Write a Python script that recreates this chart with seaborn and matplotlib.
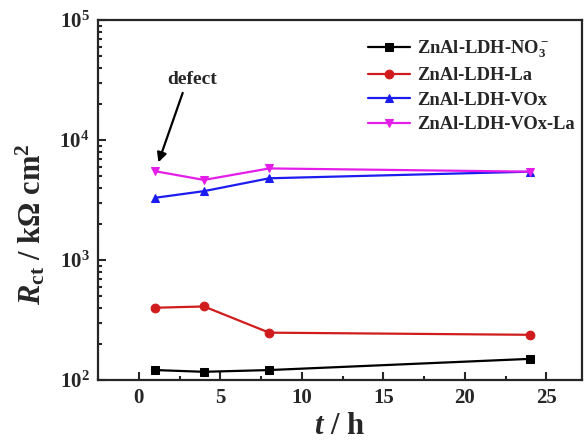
import numpy as np
import pandas as pd
import matplotlib
matplotlib.use("Agg")
import matplotlib.pyplot as plt
import matplotlib.ticker as mticker
import seaborn as sns

# ====================================
# DATA
# ====================================

time_h = [1, 4, 8, 24]
rct_no3 = [121, 117, 121, 150]
rct_la = [400, 410, 248, 238]
rct_vox = [3300, 3750, 4800, 5450]
rct_vox_la = [5500, 4650, 5800, 5450]

labels = ["ZnAl-LDH-NO$_3^-$", "ZnAl-LDH-La", "ZnAl-LDH-VOx", "ZnAl-LDH-VOx-La"]
colors = ["#000000", "#d01c1c", "#1c1cf0", "#e41ee8"]
markers = ["s", "o", "^", "v"]

# ====================================
# STYLE
# ====================================

sns.set_style("ticks")
plt.rcParams["font.family"] = ["Liberation Serif", "DejaVu Serif"]
plt.rcParams["font.weight"] = "bold"
plt.rcParams["mathtext.fontset"] = "custom"
plt.rcParams["mathtext.rm"] = "Liberation Serif"
plt.rcParams["mathtext.bf"] = "Liberation Serif:bold"
plt.rcParams["mathtext.it"] = "Liberation Serif:italic"
plt.rcParams["mathtext.bfit"] = "Liberation Serif:bold:italic"
plt.rcParams["mathtext.default"] = "bf"

fig = plt.figure(figsize=(5.85, 4.4), dpi=100)
ax = fig.add_axes([0.1675, 0.1364, 0.828, 0.818])

series = [rct_no3, rct_la, rct_vox, rct_vox_la]
for vals, lab, col, mk in zip(series, labels, colors, markers):
    df = pd.DataFrame({"t": time_h, "R": vals})
    sns.lineplot(data=df, x="t", y="R", ax=ax, color=col, marker=mk,
                 markersize=6.3, markeredgecolor=col, linewidth=1.6, label=lab)

ax.set_yscale("log")
ax.set_ylim(100, 1e5)
ax.set_xlim(-2.5, 27.2)

ax.xaxis.set_major_locator(mticker.MultipleLocator(5))
ax.xaxis.set_minor_locator(mticker.MultipleLocator(2.5))
ax.yaxis.set_major_formatter(mticker.FuncFormatter(lambda v, p: r"$\mathbf{10^{%d}}$" % round(np.log10(v))))

ax.tick_params(which="both", direction="in", top=False, right=False, width=1.5)
ax.tick_params(which="major", length=6, labelsize=15, pad=6)
ax.tick_params(which="minor", length=3)
for lbl in ax.get_xticklabels() + ax.get_yticklabels():
    lbl.set_fontweight("bold")

for s in ax.spines.values():
    s.set_linewidth(1.6)

ax.set_xlabel(r"$\mathbfit{t}\ /\ \mathbf{h}$", fontsize=22, fontweight="bold")
ax.set_ylabel(r"$\mathbfit{R}_\mathbf{ct}$ / k$\Omega$ cm$^2$", fontsize=22, fontweight="bold")
ax.xaxis.set_label_coords(0.499, -0.09)
ax.yaxis.set_label_coords(-0.104, 0.433)

ax.legend(loc="upper right", bbox_to_anchor=(1.019, 0.995), frameon=False,
          prop={"family": "Liberation Serif", "weight": "bold", "size": 13.3},
          handlelength=2.27, labelspacing=0.4, handletextpad=0.4)

# defect annotation
ax.annotate("", xy=(1.15, 6200), xytext=(2.75, 26000),
            arrowprops=dict(arrowstyle="-|>", color="black", lw=1.6, mutation_scale=14))
ax.text(3.26, 32200, "defect", fontsize=14, fontweight="bold", ha="center", va="center")

plt.savefig("out.png", dpi=100)
